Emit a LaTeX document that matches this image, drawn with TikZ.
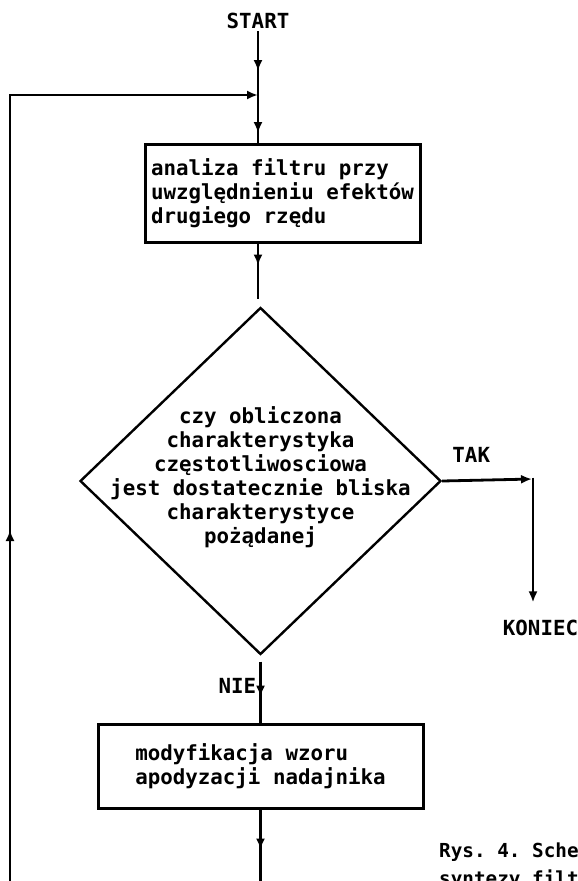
\documentclass[tikz,border=0pt]{standalone}
\usepackage{fontspec}
\setmonofont{DejaVu Sans Mono}
\usepackage{tikz}
\usetikzlibrary{arrows.meta, shapes.geometric, decorations.markings}
\newcommand{\flowfont}{\fontsize{20.8}{24}\selectfont\ttfamily\bfseries}
\newcommand{\capfont}{\fontsize{19.3}{28}\selectfont\ttfamily\bfseries}
\tikzset{
    every node/.style={font=\flowfont, inner sep=2pt},
    blok/.style={draw=black, line width=3pt, rectangle, align=left, inner sep=0pt},
    decyzja/.style={draw=black, line width=2.4pt, diamond, inner sep=0pt},
    polacz/.style={draw=black, line width=2.8pt},
    grot/.tip={Latex[length=11pt, width=9pt]},
    arrowat/.style={postaction={decorate, decoration={markings,
        mark=at position #1 with {\arrow{grot}}}}},
}

\begin{document}
\begin{tikzpicture}[x=1pt, y=-1pt]
        \useasboundingbox (0,0) rectangle (578,881);
        \clip (0,0) rectangle (578,881);
        % Draw blocks
        \node (start) at (258,21) {START};
        \node[blok, minimum width=275pt, minimum height=98pt] (analiza) at (282.5,193)
            {analiza filtru przy\\uwzględnieniu efektów\\drugiego rzędu};
        \node[decyzja, minimum width=361pt, minimum height=347pt] (pytanie) at (260.5,481) {};
        \node[align=center, yshift=4pt] (pytanietekst) at (pytanie.center)
            {czy obliczona\\charakterystyka\\częstotliwosciowa\\jest dostatecznie bliska\\charakterystyce\\pożądanej};
        \node (koniec) at (540.5,627.5) {KONIEC};
        \node[blok, minimum width=325pt, minimum height=84pt] (zmiana) at (260.5,766)
            {modyfikacja wzoru\\apodyzacji nadajnika};
        \node[anchor=north west, align=left, font=\capfont, inner sep=0pt] (podpis) at (439,843)
            {Rys. 4. Sche\\syntezy filt};
        % Corners of the lines
        \coordinate (wezel) at (258,95);
        \coordinate (zakret) at (533,479);
        \coordinate (dol) at (260.5,892);
        \coordinate (lewydol) at (10,892);
        \coordinate (lewygora) at (10,95);
        % Draw connectors
        \draw[polacz, arrowat=40pt, arrowat=102pt] 
            (start.south) -- (wezel) -- (wezel |- analiza.north);
        \draw[polacz, arrowat=22pt, shorten >=7pt] 
            (wezel |- analiza.south) -- (wezel |- pytanie.north);
        \draw[polacz, arrowat=41pt, shorten <=6pt] 
            (pytanie.south) -- node[pos=0.45, left=1pt] {NIE} (zmiana.north);
        \draw[polacz, -grot, shorten >=1pt] 
            (pytanie.east) -- node[pos=0.32, above=14pt] {TAK} (zakret);
        \draw[polacz, -grot, shorten >=15pt] 
            ([yshift=1.4pt]zakret) -- (zakret |- koniec.north);
        % Loop back to the top
        \draw[polacz, arrowat=40pt, arrowat=695pt, -grot] 
            (zmiana.south) -- (dol) -- (lewydol) -- (lewygora) -- (wezel);
    \end{tikzpicture}
\end{document}
